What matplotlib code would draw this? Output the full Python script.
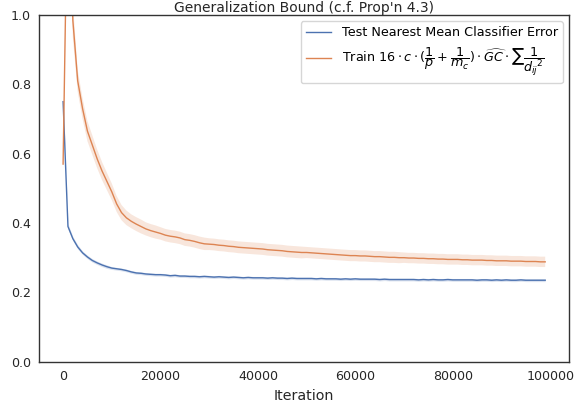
import numpy as np
import matplotlib
matplotlib.use("Agg")
import matplotlib.pyplot as plt

iterations = list(range(0, 100000, 1000))

test_err = [
    0.750, 0.390, 0.355, 0.331, 0.314, 0.302, 0.292, 0.285, 0.279, 0.274,
    0.270, 0.268, 0.266, 0.263, 0.259, 0.256, 0.255, 0.253, 0.252, 0.251,
    0.251, 0.250, 0.248, 0.249, 0.247, 0.247, 0.246, 0.246, 0.245, 0.246,
    0.245, 0.244, 0.245, 0.244, 0.243, 0.244, 0.243, 0.242, 0.243, 0.242,
    0.242, 0.242, 0.241, 0.242, 0.241, 0.241, 0.240, 0.241, 0.240, 0.240,
    0.240, 0.240, 0.239, 0.240, 0.239, 0.239, 0.239, 0.238, 0.239, 0.238,
    0.239, 0.238, 0.238, 0.238, 0.238, 0.237, 0.238, 0.237, 0.237, 0.237,
    0.237, 0.237, 0.237, 0.236, 0.237, 0.236, 0.237, 0.236, 0.236, 0.237,
    0.236, 0.236, 0.236, 0.236, 0.236, 0.235, 0.236, 0.236, 0.235, 0.236,
    0.235, 0.236, 0.235, 0.235, 0.236, 0.235, 0.235, 0.235, 0.235, 0.235,
]
test_ci = [0.010, 0.008, 0.006, 0.006, 0.005, 0.005, 0.005, 0.005, 0.005, 0.005] + [0.004] * 90

train_bound = [
    0.570, 1.450, 0.985, 0.810, 0.730, 0.665, 0.625, 0.585, 0.550, 0.520,
    0.490, 0.455, 0.430, 0.415, 0.405, 0.397, 0.390, 0.383, 0.378, 0.374,
    0.370, 0.365, 0.362, 0.360, 0.357, 0.352, 0.350, 0.347, 0.343, 0.340,
    0.339, 0.338, 0.336, 0.335, 0.333, 0.332, 0.330, 0.329, 0.328, 0.327,
    0.326, 0.325, 0.323, 0.322, 0.321, 0.320, 0.318, 0.317, 0.316, 0.315,
    0.315, 0.314, 0.313, 0.312, 0.311, 0.310, 0.309, 0.308, 0.307, 0.306,
    0.306, 0.305, 0.305, 0.304, 0.303, 0.303, 0.302, 0.301, 0.301, 0.300,
    0.300, 0.299, 0.299, 0.298, 0.298, 0.297, 0.297, 0.296, 0.296, 0.295,
    0.295, 0.295, 0.294, 0.294, 0.293, 0.293, 0.293, 0.292, 0.292, 0.291,
    0.291, 0.291, 0.290, 0.290, 0.290, 0.289, 0.289, 0.289, 0.288, 0.288,
]
train_ci = ([0.012, 0.080, 0.050, 0.032, 0.030, 0.029, 0.028, 0.027, 0.026, 0.025]
            + [0.024, 0.023, 0.022, 0.021, 0.020, 0.020, 0.020, 0.019, 0.019, 0.019]
            + [0.018] * 10 + [0.017] * 20 + [0.016] * 20 + [0.015] * 30)

title = "Generalization Bound (c.f. Prop'n 4.3)"
label_test = "Test Nearest Mean Classifier Error"
label_train = r"Train $16\cdot c\cdot(\dfrac{1}{p}+\dfrac{1}{m_c})\cdot\widehat{GC}\cdot\sum\dfrac{1}{{d_{ij}}^2}$"

blue = "#4c72b0"
orange = "#dd8452"

plt.rcParams['font.family'] = ['DejaVu Sans']
fig = plt.figure(figsize=(5.75, 4.04), dpi=100)
ax = fig.add_axes([0.0678, 0.1047, 0.9223, 0.8582])

x = np.array(iterations)
t = np.array(test_err); tc = np.array(test_ci)
r = np.array(train_bound); rc = np.array(train_ci)

ax.fill_between(x, t - tc, t + tc, color=blue, alpha=0.2, linewidth=0)
ax.plot(x, t, color=blue, lw=1.0, label=label_test)
ax.fill_between(x, r - rc, r + rc, color=orange, alpha=0.2, linewidth=0)
ax.plot(x, r, color=orange, lw=1.0, label=label_train)

ax.set_ylim(0, 1.0)
ax.set_yticks([0.0, 0.2, 0.4, 0.6, 0.8, 1.0])
ax.set_xticks([0, 20000, 40000, 60000, 80000, 100000])
ax.tick_params(labelsize=9.1, length=0, pad=6, colors="#262626")
for s in ax.spines.values():
    s.set_color("#333333")
    s.set_linewidth(1.0)
ax.set_xlabel("Iteration", fontsize=10.3, color="#262626", labelpad=4)
ax.set_title(title, fontsize=10.0, color="#262626", pad=1.5)
leg = ax.legend(loc="upper right", fontsize=9.2, framealpha=0.8)
leg.get_frame().set_edgecolor("#cccccc")

fig.savefig("out.png", dpi=100)
